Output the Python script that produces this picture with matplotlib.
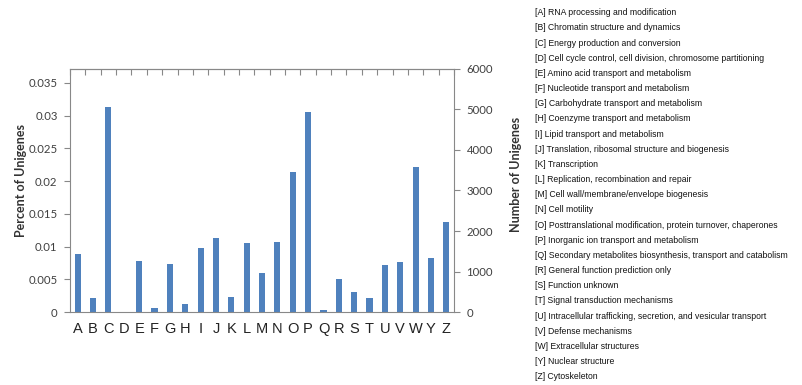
import matplotlib.pyplot as plt
import numpy as np

# COG categories and percent of unigenes
cats = list("ABCDEFGHIJKLMNOPQRSTUVWYZ")
percent = [0.00886, 0.00214, 0.03128, 0.0, 0.00785, 0.00056, 0.00734, 0.00117,
           0.00973, 0.01131, 0.00234, 0.01055, 0.00596, 0.01065, 0.02140, 0.03062,
           0.00036, 0.00504, 0.00306, 0.00209, 0.00718, 0.00759, 0.02221, 0.00820,
           0.01370]
descriptions = [
    "[A] RNA processing and modification",
    "[B] Chromatin structure and dynamics",
    "[C] Energy production and conversion",
    "[D] Cell cycle control, cell division, chromosome partitioning",
    "[E] Amino acid transport and metabolism",
    "[F] Nucleotide transport and metabolism",
    "[G] Carbohydrate transport and metabolism",
    "[H] Coenzyme transport and metabolism",
    "[I] Lipid transport and metabolism",
    "[J] Translation, ribosomal structure and biogenesis",
    "[K] Transcription",
    "[L] Replication, recombination and repair",
    "[M] Cell wall/membrane/envelope biogenesis",
    "[N] Cell motility",
    "[O] Posttranslational modification, protein turnover, chaperones",
    "[P] Inorganic ion transport and metabolism",
    "[Q] Secondary metabolites biosynthesis, transport and catabolism",
    "[R] General function prediction only",
    "[S] Function unknown",
    "[T] Signal transduction mechanisms",
    "[U] Intracellular trafficking, secretion, and vesicular transport",
    "[V] Defense mechanisms",
    "[W] Extracellular structures",
    "[Y] Nuclear structure",
    "[Z] Cytoskeleton",
]
left_ticks = [0, 0.005, 0.01, 0.015, 0.02, 0.025, 0.03, 0.035]
left_labels = ["0", "0.005", "0.01", "0.015", "0.02", "0.025", "0.03", "0.035"]
right_ticks = [0, 1000, 2000, 3000, 4000, 5000, 6000]

fig = plt.figure(figsize=(8.03, 3.85), dpi=100)
ax = fig.add_axes([0.0872, 0.1896, 0.4782, 0.6312])
x = np.arange(len(cats))
ax.bar(x, percent, width=0.4, color="#4F81BD")
ax.set_xlim(-0.5, len(cats) - 0.5)
ax.set_ylim(0, 0.03714)
ax.set_yticks(left_ticks)
ax.set_yticklabels(left_labels, fontsize=8.2, family="Lato", color="#404040")
ax.set_xticks(x)
ax.set_xticklabels(cats, fontsize=10.5, family="Liberation Sans", color="#222222")
ax.tick_params(axis="x", length=0, pad=7)
ax.tick_params(axis="y", length=4, color="#888888", width=0.8, pad=5)
ax.set_ylabel("Percent of Unigenes", fontsize=9, family="Lato", fontweight="bold",
              color="#333333")
ax.yaxis.set_label_coords(-0.112, 0.54)
for s in ["left", "bottom", "top"]:
    ax.spines[s].set_color("#888888")
    ax.spines[s].set_linewidth(0.8)
ax.spines["right"].set_visible(False)

# category boundary ticks along the top
top = ax.secondary_xaxis("top")
top.set_xticks(np.arange(len(cats) + 1) - 0.5)
top.set_xticklabels([])
top.tick_params(direction="in", length=4, color="#888888", width=0.8)
top.spines["top"].set_color("#888888")

ax2 = ax.twinx()
ax2.set_ylim(0, 6000)
ax2.set_yticks(right_ticks)
ax2.set_yticklabels([str(t) for t in right_ticks], fontsize=8.2, family="Lato", color="#404040")
ax2.tick_params(axis="y", length=4, color="#888888", width=0.8, pad=5)
ax2.set_ylabel("Number of Unigenes", fontsize=9, family="Lato", fontweight="bold",
               color="#333333")
ax2.yaxis.set_label_coords(1.146, 0.565)
for s in ["left", "bottom", "top"]:
    ax2.spines[s].set_visible(False)
ax2.spines["right"].set_color("#888888")
ax2.spines["right"].set_linewidth(0.8)

for i, d in enumerate(descriptions):
    fig.text(535 / 803, 1 - (12.7 + i * 15.17) / 385, d, fontsize=6.2,
             family="Liberation Sans", va="center", ha="left", color="#111111")

fig.savefig("out.png", dpi=100)
